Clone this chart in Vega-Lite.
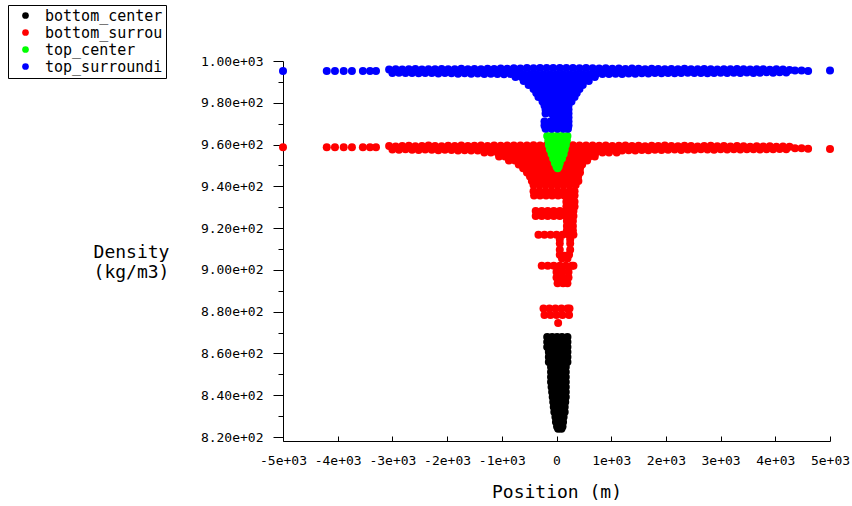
{
  "$schema": "https://vega.github.io/schema/vega-lite/v6.json",
  "autosize": {"type": "none"},
  "width": 547,
  "height": 380,
  "padding": {"left": 283, "top": 61, "right": 22, "bottom": 65},
  "background": "white",
  "config": {"view": {"stroke": null}, "font": "DejaVu Sans Mono"},
  "datasets": {
    "bottom_center": [
      {"position":-170,"density":867.9},{"position":-80,"density":867.9},{"position":10,"density":867.9},{"position":100,"density":867.9},{"position":200,"density":867.9},
      {"position":-170,"density":865.5},{"position":-80,"density":865.5},{"position":10,"density":865.5},{"position":100,"density":865.5},{"position":200,"density":865.5},
      {"position":-170,"density":863.1},{"position":-80,"density":863.1},{"position":10,"density":863.1},{"position":100,"density":863.1},{"position":200,"density":863.1},
      {"position":-140,"density":860.7},{"position":-50,"density":860.7},{"position":40,"density":860.7},{"position":130,"density":860.7},{"position":200,"density":860.7},
      {"position":-140,"density":858.3},{"position":-50,"density":858.3},{"position":40,"density":858.3},{"position":130,"density":858.3},{"position":200,"density":858.3},
      {"position":-140,"density":855.9},{"position":-50,"density":855.9},{"position":40,"density":855.9},{"position":130,"density":855.9},{"position":200,"density":855.9},
      {"position":-100,"density":853.5},{"position":-10,"density":853.5},{"position":80,"density":853.5},{"position":170,"density":853.5},
      {"position":-100,"density":851.1},{"position":-10,"density":851.1},{"position":80,"density":851.1},{"position":170,"density":851.1},
      {"position":-100,"density":848.7},{"position":-10,"density":848.7},{"position":80,"density":848.7},{"position":170,"density":848.7},
      {"position":-100,"density":846.3},{"position":-10,"density":846.3},{"position":80,"density":846.3},{"position":170,"density":846.3},
      {"position":-90,"density":843.9},{"position":0,"density":843.9},{"position":90,"density":843.9},{"position":170,"density":843.9},
      {"position":-80,"density":841.5},{"position":0,"density":841.5},{"position":90,"density":841.5},{"position":170,"density":841.5},
      {"position":-70,"density":839.1},{"position":20,"density":839.1},{"position":110,"density":839.1},{"position":170,"density":839.1},
      {"position":-60,"density":836.8},{"position":30,"density":836.8},{"position":120,"density":836.8},{"position":160,"density":836.8},
      {"position":-50,"density":834.4},{"position":40,"density":834.4},{"position":130,"density":834.4},{"position":150,"density":834.4},
      {"position":-40,"density":832.0},{"position":40,"density":832.0},{"position":120,"density":832.0},{"position":150,"density":832.0},
      {"position":-20,"density":829.6},{"position":60,"density":829.6},{"position":130,"density":829.6},
      {"position":-10,"density":827.2},{"position":60,"density":827.2},{"position":120,"density":827.2},
      {"position":10,"density":825.0},{"position":70,"density":825.0},{"position":110,"density":825.0},
      {"position":30,"density":824.0},{"position":90,"density":824.0}
    ],
    "bottom_surrounding": [
      {"position":-5000,"density":958.7},{"position":-4200,"density":958.7},{"position":-4050,"density":958.7},{"position":-3890,"density":958.7},{"position":-3740,"density":958.7},{"position":-3540,"density":958.7},{"position":-3410,"density":958.7},{"position":-3300,"density":958.7},
      {"position":-3060,"density":959.3},{"position":-2940,"density":959.1},{"position":-2820,"density":959.3},{"position":-2700,"density":959.4},{"position":-2580,"density":959.2},{"position":-2460,"density":959.3},{"position":-2340,"density":959.5},{"position":-2220,"density":959.3},{"position":-2100,"density":959.2},{"position":-1980,"density":959.4},{"position":-1860,"density":959.3},{"position":-1740,"density":959.5},{"position":-1620,"density":959.3},{"position":-1500,"density":959.4},{"position":-1380,"density":959.5},{"position":-1260,"density":959.3},{"position":-1140,"density":959.5},{"position":-1020,"density":959.4},{"position":-900,"density":959.6},{"position":-780,"density":959.5},{"position":-660,"density":959.6},{"position":-540,"density":959.6},{"position":-420,"density":959.7},{"position":-300,"density":959.6},{"position":-180,"density":959.7},{"position":-60,"density":959.7},{"position":60,"density":959.7},{"position":180,"density":959.6},{"position":300,"density":959.7},{"position":420,"density":959.6},{"position":540,"density":959.5},{"position":660,"density":959.6},{"position":780,"density":959.4},{"position":900,"density":959.5},{"position":1020,"density":959.3},{"position":1140,"density":959.4},{"position":1260,"density":959.5},{"position":1380,"density":959.3},{"position":1500,"density":959.4},{"position":1620,"density":959.2},{"position":1740,"density":959.4},{"position":1860,"density":959.3},{"position":1980,"density":959.5},{"position":2100,"density":959.3},{"position":2220,"density":959.2},{"position":2340,"density":959.4},{"position":2460,"density":959.3},{"position":2580,"density":959.1},{"position":2700,"density":959.3},{"position":2820,"density":959.4},{"position":2940,"density":959.2},{"position":3060,"density":959.3},{"position":3180,"density":959.1},{"position":3300,"density":959.3},{"position":3420,"density":959.2},{"position":3540,"density":959.0},{"position":3660,"density":959.2},{"position":3780,"density":959.1},{"position":3900,"density":959.2},{"position":4020,"density":959.0},{"position":4140,"density":959.1},{"position":4260,"density":958.9},
      {"position":-3000,"density":957.6},{"position":-2880,"density":957.5},{"position":-2760,"density":957.7},{"position":-2640,"density":957.5},{"position":-2520,"density":957.4},{"position":-2400,"density":957.6},{"position":-2280,"density":957.5},{"position":-2160,"density":957.3},{"position":-2040,"density":957.5},{"position":-1920,"density":957.4},{"position":-1800,"density":957.2},{"position":-1680,"density":957.3},{"position":-1560,"density":957.1},{"position":-1440,"density":957.2},{"position":-1320,"density":957.1},{"position":-1200,"density":957.2},{"position":-1080,"density":957.0},{"position":-960,"density":957.1},{"position":-840,"density":957.0},{"position":-720,"density":957.1},{"position":-600,"density":957.0},{"position":-480,"density":957.0},{"position":-360,"density":957.1},{"position":-240,"density":957.0},{"position":-120,"density":957.0},{"position":0,"density":957.0},{"position":120,"density":957.0},{"position":240,"density":957.0},{"position":360,"density":957.1},{"position":480,"density":957.0},{"position":600,"density":957.1},{"position":720,"density":957.0},{"position":840,"density":957.1},{"position":960,"density":957.2},{"position":1080,"density":957.1},{"position":1200,"density":957.2},{"position":1320,"density":957.3},{"position":1440,"density":957.2},{"position":1560,"density":957.4},{"position":1680,"density":957.3},{"position":1800,"density":957.5},{"position":1920,"density":957.4},{"position":2040,"density":957.5},{"position":2160,"density":957.6},{"position":2280,"density":957.4},{"position":2400,"density":957.6},{"position":2520,"density":957.5},{"position":2640,"density":957.7},{"position":2760,"density":957.6},{"position":2880,"density":957.5},{"position":3000,"density":957.7},{"position":3120,"density":957.6},{"position":3240,"density":957.8},{"position":3360,"density":957.6},{"position":3480,"density":957.7},{"position":3600,"density":957.8},{"position":3720,"density":957.6},{"position":3840,"density":957.8},{"position":3960,"density":957.7},{"position":4080,"density":957.9},{"position":4200,"density":957.8},
      {"position":4360,"density":958.2},{"position":4480,"density":958.2},{"position":4600,"density":958.0},{"position":5000,"density":957.9},
      {"position":-1320,"density":956.2},{"position":-1200,"density":956.2},{"position":-1080,"density":956.2},{"position":-960,"density":956.2},{"position":-840,"density":956.2},{"position":-720,"density":956.2},{"position":-600,"density":956.2},{"position":-480,"density":956.2},{"position":-360,"density":956.2},{"position":-240,"density":956.2},{"position":-120,"density":956.2},{"position":0,"density":956.2},{"position":120,"density":956.2},{"position":240,"density":956.2},{"position":360,"density":956.2},{"position":480,"density":956.2},{"position":600,"density":956.2},{"position":720,"density":956.2},{"position":840,"density":956.2},{"position":960,"density":956.2},{"position":1100,"density":956.2},
      {"position":-1050,"density":954.3},{"position":-940,"density":954.3},{"position":-830,"density":954.3},{"position":-720,"density":954.3},{"position":-610,"density":954.3},{"position":-500,"density":954.3},{"position":-390,"density":954.3},{"position":-280,"density":954.3},{"position":-170,"density":954.3},{"position":-60,"density":954.3},{"position":50,"density":954.3},{"position":160,"density":954.3},{"position":270,"density":954.3},{"position":380,"density":954.3},{"position":490,"density":954.3},{"position":600,"density":954.3},{"position":700,"density":954.3},
      {"position":-870,"density":952.4},{"position":-760,"density":952.4},{"position":-650,"density":952.4},{"position":-540,"density":952.4},{"position":-430,"density":952.4},{"position":-320,"density":952.4},{"position":-210,"density":952.4},{"position":-100,"density":952.4},{"position":10,"density":952.4},{"position":120,"density":952.4},{"position":230,"density":952.4},{"position":340,"density":952.4},{"position":450,"density":952.4},{"position":560,"density":952.4},
      {"position":-690,"density":950.5},{"position":-580,"density":950.5},{"position":-470,"density":950.5},{"position":-360,"density":950.5},{"position":-250,"density":950.5},{"position":-140,"density":950.5},{"position":-30,"density":950.5},{"position":80,"density":950.5},{"position":190,"density":950.5},{"position":300,"density":950.5},{"position":400,"density":950.5},{"position":470,"density":950.5},
      {"position":-610,"density":948.6},{"position":-500,"density":948.6},{"position":-390,"density":948.6},{"position":-280,"density":948.6},{"position":-170,"density":948.6},{"position":-60,"density":948.6},{"position":50,"density":948.6},{"position":160,"density":948.6},{"position":270,"density":948.6},{"position":380,"density":948.6},{"position":430,"density":948.6},
      {"position":-540,"density":946.6},{"position":-430,"density":946.6},{"position":-320,"density":946.6},{"position":-210,"density":946.6},{"position":-100,"density":946.6},{"position":10,"density":946.6},{"position":120,"density":946.6},{"position":230,"density":946.6},{"position":340,"density":946.6},{"position":430,"density":946.6},
      {"position":-485,"density":944.7},{"position":-375,"density":944.7},{"position":-265,"density":944.7},{"position":-155,"density":944.7},{"position":-45,"density":944.7},{"position":65,"density":944.7},{"position":175,"density":944.7},{"position":285,"density":944.7},{"position":395,"density":944.7},
      {"position":-450,"density":942.6},{"position":-340,"density":942.6},{"position":-230,"density":942.6},{"position":-120,"density":942.6},{"position":-10,"density":942.6},{"position":100,"density":942.6},{"position":210,"density":942.6},{"position":320,"density":942.6},{"position":400,"density":942.6},
      {"position":-420,"density":940.6},{"position":-310,"density":940.6},{"position":-200,"density":940.6},{"position":-90,"density":940.6},{"position":20,"density":940.6},{"position":130,"density":940.6},{"position":240,"density":940.6},{"position":350,"density":940.6},
      {"position":-420,"density":937.7},{"position":-310,"density":937.7},{"position":-200,"density":937.7},{"position":-90,"density":937.7},{"position":20,"density":937.7},{"position":130,"density":937.7},{"position":240,"density":937.7},{"position":330,"density":937.7},
      {"position":-410,"density":935.6},{"position":-300,"density":935.6},{"position":-190,"density":935.6},{"position":-80,"density":935.6},{"position":30,"density":935.6},{"position":140,"density":935.6},{"position":250,"density":935.6},{"position":330,"density":935.6},
      {"position":180,"density":932.6},{"position":260,"density":932.6},{"position":330,"density":932.6},
      {"position":180,"density":930.4},{"position":260,"density":930.4},{"position":330,"density":930.4},
      {"position":-380,"density":928.2},{"position":-270,"density":928.2},{"position":-160,"density":928.2},{"position":-50,"density":928.2},{"position":60,"density":928.2},{"position":170,"density":928.2},{"position":280,"density":928.2},{"position":310,"density":928.2},
      {"position":-380,"density":925.8},{"position":-270,"density":925.8},{"position":-160,"density":925.8},{"position":-50,"density":925.8},{"position":60,"density":925.8},{"position":170,"density":925.8},{"position":280,"density":925.8},{"position":310,"density":925.8},
      {"position":190,"density":923.4},{"position":300,"density":923.4},
      {"position":190,"density":921.0},{"position":300,"density":921.0},
      {"position":190,"density":918.8},{"position":300,"density":918.8},
      {"position":-330,"density":916.8},{"position":-220,"density":916.8},{"position":-110,"density":916.8},{"position":0,"density":916.8},{"position":110,"density":916.8},{"position":220,"density":916.8},{"position":310,"density":916.8},
      {"position":60,"density":914.6},{"position":250,"density":914.6},
      {"position":60,"density":912.6},{"position":250,"density":912.6},{"position":60,"density":909.7},{"position":250,"density":909.7},{"position":60,"density":907.3},{"position":150,"density":906.8},{"position":230,"density":907.3},
      {"position":100,"density":905.5},{"position":200,"density":905.5},
      {"position":-270,"density":902.0},{"position":-160,"density":902.0},{"position":-50,"density":902.0},{"position":60,"density":902.0},{"position":170,"density":902.0},{"position":280,"density":902.0},{"position":310,"density":902.0},
      {"position":0,"density":899.0},{"position":110,"density":899.0},{"position":220,"density":899.0},
      {"position":0,"density":896.3},{"position":110,"density":896.3},{"position":220,"density":896.3},
      {"position":20,"density":893.6},{"position":120,"density":893.6},{"position":200,"density":893.6},
      {"position":-238,"density":881.5},{"position":-130,"density":881.5},{"position":-20,"density":881.5},{"position":90,"density":881.5},{"position":200,"density":881.5},{"position":238,"density":881.5},
      {"position":-220,"density":878.4},{"position":-110,"density":878.4},{"position":0,"density":878.4},{"position":110,"density":878.4},{"position":230,"density":878.4},
      {"position":30,"density":874.6}
    ],
    "top_center": [
      {"position":-170,"density":964.1},{"position":-80,"density":964.1},{"position":10,"density":964.1},{"position":100,"density":964.1},{"position":200,"density":964.1},
      {"position":-150,"density":962.0},{"position":-60,"density":962.0},{"position":30,"density":962.0},{"position":120,"density":962.0},{"position":190,"density":962.0},
      {"position":-140,"density":959.8},{"position":-50,"density":959.8},{"position":40,"density":959.8},{"position":130,"density":959.8},{"position":170,"density":959.8},
      {"position":-120,"density":957.6},{"position":-30,"density":957.6},{"position":60,"density":957.6},{"position":150,"density":957.6},
      {"position":-90,"density":955.5},{"position":0,"density":955.5},{"position":90,"density":955.5},{"position":130,"density":955.5},
      {"position":-60,"density":953.3},{"position":30,"density":953.3},{"position":100,"density":953.3},
      {"position":-30,"density":951.2},{"position":60,"density":951.2},
      {"position":0,"density":949.5},{"position":40,"density":949.5},
      {"position":20,"density":948.6}
    ],
    "top_surrounding": [
      {"position":-5000,"density":995.2},{"position":-4200,"density":995.2},{"position":-4050,"density":995.2},{"position":-3890,"density":995.2},{"position":-3740,"density":995.2},{"position":-3540,"density":995.2},{"position":-3410,"density":995.2},{"position":-3300,"density":995.2},
      {"position":-3060,"density":995.9},{"position":-2940,"density":996.1},{"position":-2820,"density":995.9},{"position":-2700,"density":996.0},{"position":-2580,"density":996.2},{"position":-2460,"density":995.9},{"position":-2340,"density":996.1},{"position":-2220,"density":996.0},{"position":-2100,"density":996.2},{"position":-1980,"density":996.0},{"position":-1860,"density":996.1},{"position":-1740,"density":996.3},{"position":-1620,"density":996.0},{"position":-1500,"density":996.2},{"position":-1380,"density":996.1},{"position":-1260,"density":996.3},{"position":-1140,"density":996.2},{"position":-1020,"density":996.4},{"position":-900,"density":996.3},{"position":-780,"density":996.5},{"position":-660,"density":996.4},{"position":-540,"density":996.6},{"position":-420,"density":996.5},{"position":-300,"density":996.6},{"position":-180,"density":996.6},{"position":-60,"density":996.6},{"position":60,"density":996.6},{"position":180,"density":996.6},{"position":300,"density":996.6},{"position":420,"density":996.5},{"position":540,"density":996.6},{"position":660,"density":996.5},{"position":780,"density":996.4},{"position":900,"density":996.5},{"position":1020,"density":996.3},{"position":1140,"density":996.4},{"position":1260,"density":996.2},{"position":1380,"density":996.4},{"position":1500,"density":996.3},{"position":1620,"density":996.1},{"position":1740,"density":996.3},{"position":1860,"density":996.2},{"position":1980,"density":996.0},{"position":2100,"density":996.2},{"position":2220,"density":996.1},{"position":2340,"density":996.3},{"position":2460,"density":996.1},{"position":2580,"density":996.0},{"position":2700,"density":996.2},{"position":2820,"density":996.1},{"position":2940,"density":995.9},{"position":3060,"density":996.1},{"position":3180,"density":996.0},{"position":3300,"density":996.2},{"position":3420,"density":996.0},{"position":3540,"density":995.9},{"position":3660,"density":996.1},{"position":3780,"density":996.0},{"position":3900,"density":995.8},{"position":4020,"density":996.0},{"position":4140,"density":995.9},{"position":4260,"density":995.7},
      {"position":-3000,"density":994.3},{"position":-2880,"density":994.4},{"position":-2760,"density":994.2},{"position":-2640,"density":994.3},{"position":-2520,"density":994.1},{"position":-2400,"density":994.3},{"position":-2280,"density":994.2},{"position":-2160,"density":994.0},{"position":-2040,"density":994.2},{"position":-1920,"density":994.1},{"position":-1800,"density":993.9},{"position":-1680,"density":994.1},{"position":-1560,"density":993.9},{"position":-1440,"density":994.0},{"position":-1320,"density":993.8},{"position":-1200,"density":993.9},{"position":-1080,"density":993.8},{"position":-960,"density":993.7},{"position":-840,"density":993.8},{"position":-720,"density":993.7},{"position":-600,"density":993.7},{"position":-480,"density":993.7},{"position":-360,"density":993.7},{"position":-240,"density":993.7},{"position":-120,"density":993.7},{"position":0,"density":993.7},{"position":120,"density":993.7},{"position":240,"density":993.7},{"position":360,"density":993.7},{"position":480,"density":993.7},{"position":600,"density":993.7},{"position":720,"density":993.7},{"position":840,"density":993.8},{"position":960,"density":993.8},{"position":1080,"density":993.9},{"position":1200,"density":993.8},{"position":1320,"density":994.0},{"position":1440,"density":993.9},{"position":1560,"density":994.1},{"position":1680,"density":994.0},{"position":1800,"density":994.2},{"position":1920,"density":994.1},{"position":2040,"density":994.3},{"position":2160,"density":994.1},{"position":2280,"density":994.2},{"position":2400,"density":994.4},{"position":2520,"density":994.2},{"position":2640,"density":994.3},{"position":2760,"density":994.1},{"position":2880,"density":994.3},{"position":3000,"density":994.4},{"position":3120,"density":994.2},{"position":3240,"density":994.4},{"position":3360,"density":994.3},{"position":3480,"density":994.5},{"position":3600,"density":994.3},{"position":3720,"density":994.4},{"position":3840,"density":994.6},{"position":3960,"density":994.4},{"position":4080,"density":994.6},{"position":4200,"density":994.5},
      {"position":4360,"density":995.4},{"position":4480,"density":995.4},{"position":4600,"density":995.2},{"position":5000,"density":995.4},
      {"position":-750,"density":992.3},{"position":-640,"density":992.3},{"position":-530,"density":992.3},{"position":-420,"density":992.3},{"position":-310,"density":992.3},{"position":-200,"density":992.3},{"position":-90,"density":992.3},{"position":20,"density":992.3},{"position":130,"density":992.3},{"position":240,"density":992.3},{"position":350,"density":992.3},{"position":460,"density":992.3},{"position":570,"density":992.3},{"position":700,"density":992.3},
      {"position":-600,"density":990.4},{"position":-490,"density":990.4},{"position":-380,"density":990.4},{"position":-270,"density":990.4},{"position":-160,"density":990.4},{"position":-50,"density":990.4},{"position":60,"density":990.4},{"position":170,"density":990.4},{"position":280,"density":990.4},{"position":390,"density":990.4},{"position":500,"density":990.4},{"position":590,"density":990.4},
      {"position":-510,"density":988.5},{"position":-400,"density":988.5},{"position":-290,"density":988.5},{"position":-180,"density":988.5},{"position":-70,"density":988.5},{"position":40,"density":988.5},{"position":150,"density":988.5},{"position":260,"density":988.5},{"position":370,"density":988.5},{"position":480,"density":988.5},
      {"position":-420,"density":986.6},{"position":-310,"density":986.6},{"position":-200,"density":986.6},{"position":-90,"density":986.6},{"position":20,"density":986.6},{"position":130,"density":986.6},{"position":240,"density":986.6},{"position":350,"density":986.6},{"position":420,"density":986.6},
      {"position":-370,"density":984.7},{"position":-260,"density":984.7},{"position":-150,"density":984.7},{"position":-40,"density":984.7},{"position":70,"density":984.7},{"position":180,"density":984.7},{"position":290,"density":984.7},{"position":370,"density":984.7},
      {"position":-330,"density":982.8},{"position":-220,"density":982.8},{"position":-110,"density":982.8},{"position":0,"density":982.8},{"position":110,"density":982.8},{"position":220,"density":982.8},{"position":330,"density":982.8},
      {"position":-256,"density":980.6},{"position":-150,"density":980.6},{"position":-40,"density":980.6},{"position":70,"density":980.6},{"position":180,"density":980.6},{"position":274,"density":980.6},
      {"position":-220,"density":978.7},{"position":-110,"density":978.7},{"position":0,"density":978.7},{"position":110,"density":978.7},{"position":220,"density":978.7},
      {"position":-200,"density":976.8},{"position":-90,"density":976.8},{"position":20,"density":976.8},{"position":130,"density":976.8},{"position":220,"density":976.8},
      {"position":-200,"density":974.9},{"position":-90,"density":974.9},{"position":20,"density":974.9},{"position":130,"density":974.9},{"position":220,"density":974.9},
      {"position":-50,"density":973.0},{"position":60,"density":973.0},{"position":170,"density":973.0},{"position":220,"density":973.0},
      {"position":-220,"density":971.0},{"position":-110,"density":971.0},{"position":0,"density":971.0},{"position":110,"density":971.0},{"position":220,"density":971.0},
      {"position":-220,"density":969.1},{"position":-110,"density":969.1},{"position":0,"density":969.1},{"position":110,"density":969.1},{"position":220,"density":969.1},
      {"position":-200,"density":967.6},{"position":-90,"density":967.6},{"position":20,"density":967.6},{"position":130,"density":967.6},{"position":210,"density":967.6}
    ]
  },
  "encoding": {
    "x": {
      "field": "position", "type": "quantitative",
      "scale": {"domain": [-5000, 5000], "nice": false, "zero": false},
      "axis": {
        "title": "Position (m)",
        "values": [-5000, -4000, -3000, -2000, -1000, 0, 1000, 2000, 3000, 4000, 5000],
        "labelExpr": "datum.value == 0 ? '0' : (datum.value < 0 ? '-' : '') + (abs(datum.value) / 1000) + 'e+03'",
        "grid": false, "tickSize": -5, "tickColor": "black", "domainColor": "black",
        "labelFont": "DejaVu Sans Mono", "labelFontSize": 13, "labelColor": "black", "labelPadding": 18,
        "labelFlush": false, "labelOverlap": false,
        "titleFont": "DejaVu Sans Mono", "titleFontSize": 18, "titleFontWeight": "normal", "titleColor": "black",
        "titleBaseline": "middle", "titleY": 51
      }
    },
    "y": {
      "field": "density", "type": "quantitative",
      "scale": {"domain": [818.09, 1000], "nice": false, "zero": false},
      "axis": {
        "title": ["Density", "(kg/m3)"],
        "values": [820, 830, 840, 850, 860, 870, 880, 890, 900, 910, 920, 930, 940, 950, 960, 970, 980, 990, 1000],
        "labelExpr": "datum.value % 20 == 0 ? replace(format(datum.value, '.2e'), 'e+', 'e+0') : ''",
        "tickSize": {"condition": {"test": "datum.value % 20 == 0", "value": 10}, "value": 5},
        "grid": false, "tickColor": "black", "domainColor": "black",
        "labelFont": "DejaVu Sans Mono", "labelFontSize": 13, "labelColor": "black", "labelPadding": 10,
        "labelFlush": false, "labelOverlap": false,
        "titleFont": "DejaVu Sans Mono", "titleFontSize": 18, "titleFontWeight": "normal", "titleColor": "black",
        "titleAngle": 0, "titleAlign": "center", "titleBaseline": "middle", "titleX": -152, "titleY": 191, "titleLineHeight": 20
      }
    }
  },
  "layer": [
    {
      "data": {"name": "bottom_center"},
      "mark": {"type": "point", "filled": true, "size": 64, "opacity": 1},
      "encoding": {
        "color": {
          "datum": "bottom_center", "type": "nominal",
          "scale": {"domain": ["bottom_center", "bottom_surrounding", "top_center", "top_surrounding"], "range": ["#000000", "#ff0000", "#00ff00", "#0000ff"]},
          "legend": {
            "title": null, "orient": "none", "legendX": -275, "legendY": -56, "direction": "vertical",
            "strokeColor": "black", "fillColor": "white", "padding": 3,
            "symbolType": "circle", "symbolSize": 45, "symbolStrokeWidth": 0, "symbolOffset": 7,
            "labelOffset": 12, "labelFont": "DejaVu Sans Mono", "labelFontSize": 15, "labelColor": "black",
            "rowPadding": 1, "labelLimit": 400, "labelExpr": "substring(datum.label, 0, 13)"
          }
        }
      }
    },
    {
      "data": {"name": "bottom_surrounding"},
      "mark": {"type": "point", "filled": true, "size": 64, "opacity": 1},
      "encoding": {"color": {"datum": "bottom_surrounding", "type": "nominal"}}
    },
    {
      "data": {"name": "top_center"},
      "mark": {"type": "point", "filled": true, "size": 64, "opacity": 1},
      "encoding": {"color": {"datum": "top_center", "type": "nominal"}}
    },
    {
      "data": {"name": "top_surrounding"},
      "mark": {"type": "point", "filled": true, "size": 64, "opacity": 1},
      "encoding": {"color": {"datum": "top_surrounding", "type": "nominal"}}
    }
  ]
}
